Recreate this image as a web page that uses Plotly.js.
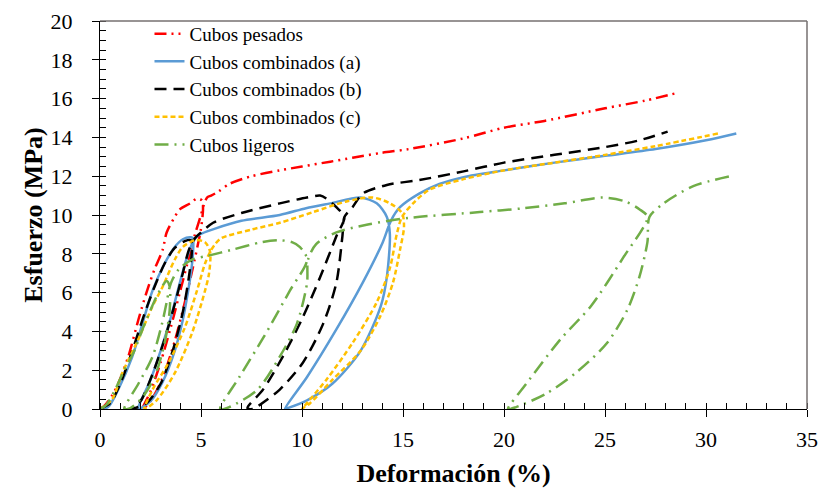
<!DOCTYPE html>
<html>
<head>
<meta charset="utf-8">
<script src="https://cdn.plot.ly/plotly-3.0.1.min.js"></script>
<style>html,body{margin:0;padding:0;background:#fff;}#chart{width:822px;height:496px;}</style>
</head>
<body>
<div id="chart"></div>
<script>
// Series names
const seriesNames = ["Cubos pesados", "Cubos combinados (a)", "Cubos combinados (b)", "Cubos combinados (c)", "Cubos ligeros"];

// Cubos pesados
const redX = [0,0.25,0.6,0.9,1.4,1.9,2.3,2.7,3.1,3.3,3.7,3.96,4.46,4.8,5.05,5.1, 5.0,4.85,4.6,4.2,3.7,3.1,2.5,2.1, 2.5,3.0,3.5,3.95,4.35,4.7,5.0,5.1,5.3,5.5,5.85,6.4,7.5,8.9,10,11.4,12.5,13.9,15.3,18,20,22,25,27,28.6];
const redY = [0,0.2,0.7,1.3,2.7,4.6,6.0,7.2,8.2,9.1,9.9,10.3,10.6,10.85,10.75,10.3, 9.3,8.5,7.3,5.5,3.5,1.6,0.4,0, 0.9,2.4,4.2,6.0,7.6,9.0,10.0,10.4,10.9,11.0,11.2,11.6,12.0,12.3,12.5,12.75,12.95,13.2,13.4,13.95,14.5,14.85,15.5,15.9,16.3];

// Cubos combinados (a)
const blueX = [0,0.4,0.9,1.6,2.1,2.6,3.2,3.7,4.1,4.5,4.6, 4.6,4.5,4.35,4.1,3.7,3.1,2.5,1.9, 2.5,3.0,3.5,3.9,4.3,4.6,4.8,5.05,5.7,7,8.9,10.2,11.4,12.9,13.7,14.2,14.35, 14.2,13.9,12.9,11.5,10.25,9.3, 9.15,10.25,11.7,13.0,14.0,14.4,14.85,15.8,16.8,18,20,22.5,25,27.5,30,31.5];
const blueY = [0,0.1,1.0,2.7,4.4,6.1,7.5,8.35,8.75,8.85,8.8, 8.0,7.0,6.0,4.6,3.0,1.4,0.4,0, 1.5,3.0,4.7,6.3,7.8,8.6,8.9,9.05,9.3,9.7,10.0,10.35,10.6,10.9,10.6,9.9,9.0, 6.8,5.3,3.0,1.3,0.45,0.05, 0,1.65,4.1,6.5,8.6,9.7,10.4,11.1,11.6,11.95,12.3,12.7,13.05,13.4,13.85,14.2];

// Cubos combinados (b)
const blackX = [0,0.5,1.0,1.6,2.2,2.7,3.2,3.7,4.2,4.5, 4.55,4.4,4.1,3.6,3.0,2.3,1.5, 2.0,2.6,3.2,3.7,4.1,4.4,4.7,4.95,5.6,7,8.9,10.25,10.9,11.2,11.7,12.1, 11.7,10.9,10.05,9.05,8.07,7.3, 7.6,7.9,8.9,10.05,11.05,11.7,12.0,12.1,12.5,13.0,14.2,15.8,18,20,22.5,25,26.7,28.1];
const blackY = [0,0.3,1.3,3.0,4.9,6.3,7.5,8.3,8.65,8.7, 8.2,6.8,5.0,3.0,1.3,0.3,0, 0.4,1.8,3.6,5.4,7.0,8.2,8.8,9.05,9.6,10.1,10.6,10.9,11.0,10.85,10.4,9.9, 8.9,6.8,4.75,2.7,1.0,0.05, 0,0.2,1.0,2.4,4.4,6.5,8.9,9.9,10.4,11.1,11.55,11.8,12.25,12.7,13.1,13.5,13.85,14.3];

// Cubos combinados (c)
const yellowX = [0,0.6,1.1,1.9,2.6,3.1,3.7,4.1,4.7,5.2,5.45, 5.4,5.2,4.55,3.7,2.8,2.2, 2.6,3.4,4.2,4.8,5.2,5.45,5.7,6.0,7.5,8.9,10.55,12.2,13.5,14.36,14.95,15.05, 14.85,14.5,13.86,12.9,11.5,10.4,10.05, 10.0,11.2,12.5,13.7,14.36,14.7,14.95,15.5,16.3,18,20,22.5,25,27.5,30.6];
const yellowY = [0,0.5,1.85,3.6,5.3,6.3,7.7,8.35,8.7,8.6,8.1, 7.0,6.1,3.9,1.85,0.45,0, 1.0,2.4,4.2,6.1,7.5,8.1,8.5,8.8,9.25,9.6,10.15,10.7,10.9,10.6,10.1,9.4, 8.2,6.5,4.75,3.0,1.5,0.3,0.05, 0,1.5,3.4,5.5,7.3,9.05,9.9,10.6,11.3,11.85,12.3,12.7,13.1,13.55,14.2];

// Cubos ligeros
const greenX = [0,0.3,0.75,1.2,1.7,2.1,2.5,2.9,3.3,3.45, 3.45,3.2,2.7,2.1,1.5,1.2, 1.9,2.6,3.07,3.3,3.45,3.6,3.9,4.55,5.35,6.5,8.0,8.9,9.5,9.9,10.25, 9.4,8.1,6.9,5.95, 6.4,7.8,8.9,9.75,10.25,10.3,10.7,11.7,13.2,15.3,18.8,21,23,24.9,26,26.7,27.1, 25.9,24.3,22.8,21.1,20.2, 20.6,22.1,23.6,25.1,26.1,26.7,27.1,27.2,27.9,29.4,31.2];
const greenY = [0,0.2,1.0,2.0,3.0,4.1,5.1,6.0,6.6,6.3, 5.1,3.4,1.65,0.6,0.05,0, 1.3,2.7,4.4,5.5,6.3,6.7,7.2,7.7,7.9,8.2,8.6,8.7,8.6,8.35,7.7, 6.1,3.7,1.65,0, 0.1,1.0,2.7,4.4,6.5,7.7,8.5,9.1,9.5,9.85,10.15,10.35,10.6,10.9,10.7,10.3,9.9, 7.8,5.3,3.6,1.3,0, 0.1,0.8,1.9,3.4,5.1,6.8,8.6,9.9,10.6,11.5,12.0];

// Axis ticks
const xTicks = [0,5,10,15,20,25,30,35];
const yTicks = [0,2,4,6,8,10,12,14,16,18,20];

const xsAll = [redX, blueX, blackX, yellowX, greenX];
const ysAll = [redY, blueY, blackY, yellowY, greenY];
const colors = ["#FF0000", "#5B9BD5", "#000000", "#FFC000", "#70AD47"];
const dashes = ["12px,5px,2px,5px,2px,5px", "solid", "12px,7px", "5px,3px", "14px,6px,2px,6px"];
const widths = [2.5, 2.5, 2.5, 2.5, 2.5];

const traces = seriesNames.map((n, i) => ({
  type: "scatter", mode: "lines", name: n,
  x: xsAll[i], y: ysAll[i],
  line: {color: colors[i], dash: dashes[i], width: widths[i], shape: "spline", smoothing: 0.8},
  hoverinfo: "skip"
}));

const serif = "Liberation Serif";
const layout = {
  width: 822, height: 496,
  margin: {l: 100, r: 15, t: 21, b: 87},
  paper_bgcolor: "#fff", plot_bgcolor: "#fff",
  font: {family: serif, color: "#000", size: 20},
  showlegend: true,
  legend: {x: 0.07, y: 1.016, xanchor: "left", yanchor: "top", bgcolor: "rgba(0,0,0,0)",
           font: {family: serif, size: 19, color: "#000"}, tracegroupgap: 0},
  xaxis: {range: [0, 35], tickvals: xTicks, ticktext: xTicks.map(String), showgrid: false, zeroline: false,
          showline: true, linecolor: "#000", linewidth: 1, ticks: "outside", ticklen: 7, tickcolor: "#000",
          minor: {dtick: 1, ticks: "inside", ticklen: 6, tickcolor: "#000", showgrid: false},
          tickfont: {family: serif, size: 22, color: "#000"}, ticklabelstandoff: 4,
          title: {text: "<b>Deformación (%)</b>", font: {family: serif, size: 26, color: "#000"}, standoff: 12}},
  yaxis: {range: [0, 20], tickvals: yTicks, ticktext: yTicks.map(String), showgrid: false, zeroline: false,
          showline: true, linecolor: "#000", linewidth: 1, ticks: "outside", ticklen: 7, tickcolor: "#000",
          minor: {dtick: 0.5, ticks: "inside", ticklen: 6, tickcolor: "#000", showgrid: false},
          tickfont: {family: serif, size: 22, color: "#000"}, ticklabelstandoff: 15,
          title: {text: "<b>Esfuerzo (MPa)</b>", font: {family: serif, size: 26, color: "#000"}, standoff: 0}},
  xaxis2: {overlaying: "x", anchor: "y", range: [0, 35], tickvals: xTicks, showticklabels: false, ticks: "inside",
           ticklen: 7, tickcolor: "#000", showgrid: false, zeroline: false, showline: false},
  yaxis2: {overlaying: "y", anchor: "x", range: [0, 20], tickvals: yTicks, showticklabels: false, ticks: "inside",
           ticklen: 7, tickcolor: "#000", showgrid: false, zeroline: false, showline: false},
  shapes: [
    {type: "line", xref: "paper", yref: "paper", x0: 0, x1: 1, y0: 1, y1: 1, line: {color: "#767171", width: 1.5}},
    {type: "line", xref: "paper", yref: "paper", x0: 1, x1: 1, y0: 0, y1: 1, line: {color: "#767171", width: 1.5}}
  ]
};

Plotly.newPlot("chart", traces, layout, {staticPlot: true, displayModeBar: false});
</script>
</body>
</html>
